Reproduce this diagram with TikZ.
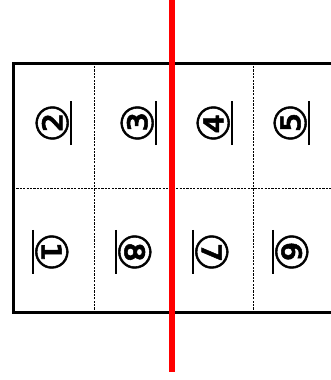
\documentclass[tikz,border=0pt]{standalone}
\usepackage{fontspec}
\usepackage{xcolor}
\usetikzlibrary{positioning}
\newfontfamily\circfont[FakeBold=1.2]{DejaVu Sans}
\definecolor{cutred}{HTML}{FF0000}
\newcommand\pagenum[1]{\vtop{\hbox{\kern2.5pt\circfont\fontsize{44}{44}\selectfont #1\kern2.5pt}\kern1.5pt\hrule height 2.2pt}}

\begin{document}
\begin{tikzpicture}[x=1pt, y=1pt,
    sheet/.style={draw=black, line width=3pt},
    fold/.style={draw=black, line width=1pt, dash pattern=on 2.2pt off 1.2pt},
    toppage/.style={inner sep=0pt, rotate=90},
    botpage/.style={inner sep=0pt, rotate=-90},
    cutline/.style={draw=cutred, line width=6pt}]
  \useasboundingbox (0,0) rectangle (331,380);
  % sheet corners
  \coordinate (sw) at (13,67);
  \coordinate (ne) at (332,316);
  % fold lines
  \draw[fold] (13,191) -- (332,191);
  \draw[fold] (94,67) -- (94,316);
  \draw[fold] (173,67) -- (173,316);
  \draw[fold] (253,67) -- (253,316);
  \draw[sheet] (sw) rectangle (ne);
  % pages, upper row
  \node[toppage] (p2) at (54,257) {\pagenum{②}};
  \node[toppage] (p3) at (139,257) {\pagenum{③}};
  \node[toppage] (p4) at (215,257) {\pagenum{④}};
  \node[toppage] (p5) at (292,257) {\pagenum{⑤}};
  % pages, lower row
  \node[botpage] (p1) at (50,128) {\pagenum{①}};
  \node[botpage] (p8) at (133,128) {\pagenum{⑧}};
  \node[botpage] (p7) at (210,128) {\pagenum{⑦}};
  \node[botpage] (p6) at (290,128) {\pagenum{⑥}};
  % cut
  \coordinate (cuttop) at (172,380);
  \coordinate (cutbot) at (172,8);
  \draw[cutline] (cuttop) -- (cutbot);
\end{tikzpicture}
\end{document}
